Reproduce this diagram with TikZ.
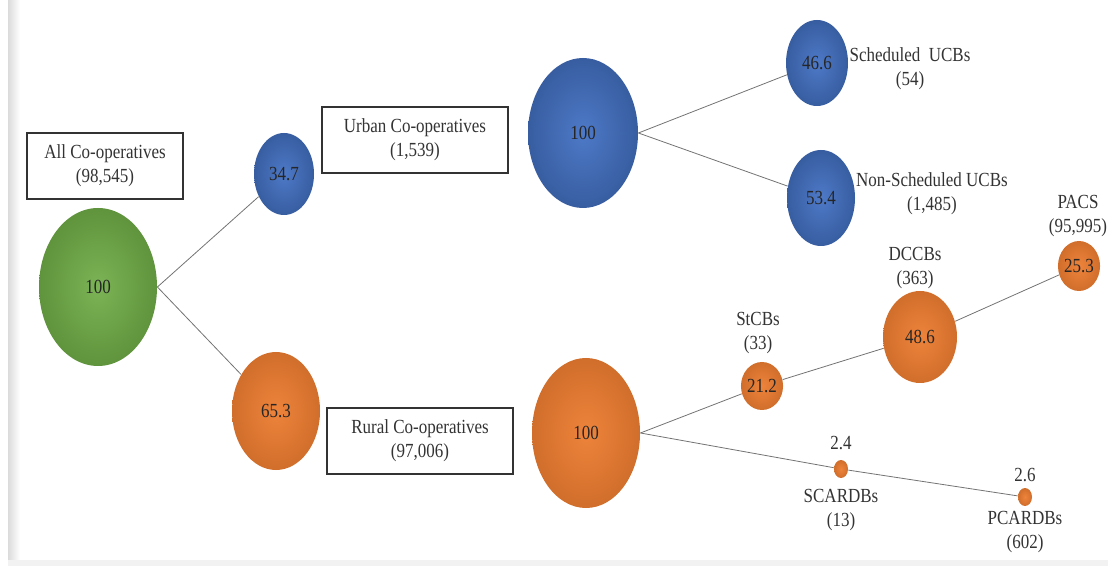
\documentclass[tikz,border=0pt]{standalone}
\usepackage{fontspec}
\setmainfont{Liberation Serif}[FakeStretch=0.85]
\usetikzlibrary{shapes.geometric, shadings}
\definecolor{verde}{HTML}{70AD47}
\definecolor{azul}{HTML}{4472C4}
\definecolor{naranja}{HTML}{ED7D31}

\begin{document}
\begin{tikzpicture}[x=.5pt, y=-.5pt, font=\fontsize{10}{12}\selectfont,
		burbuja/.style 2 args={ellipse, shade, inner sep=0pt, text=black!85, minimum width=#1, minimum height=#2},
		bverde/.style={inner color=verde!92!white, outer color=verde!85!black},
		bazul/.style={inner color=azul!95!white, outer color=azul!82!black},
		bnaranja/.style={inner color=naranja!95!white, outer color=naranja!88!black},
		caja/.style={draw=black!80, thick, align=center, text=black!80, minimum width=#1, minimum height=33pt},
		etiqueta/.style={align=center, text=black!80, inner sep=0pt},
		linea/.style={draw=black!55, thin}]
		\useasboundingbox (0, 0) rectangle (1108, 566);
		\shade[left color=black!14, right color=white] (8, 0) rectangle (20, 560);
		\fill[black!5] (8, 560) rectangle (1108, 566);
		
		% Circulos
		\node[burbuja={59pt}{79pt}, bverde] (todos) at (98, 287) {100};
		\node[burbuja={30pt}{41pt}, bazul] (urb) at (284, 174) {34.7};
		\node[burbuja={44pt}{59pt}, bnaranja] (rur) at (276, 411) {65.3};
		\node[burbuja={55pt}{75pt}, bazul] (urbcien) at (583, 133) {100};
		\node[burbuja={31pt}{43pt}, bazul] (sched) at (817, 63) {46.6};
		\node[burbuja={34pt}{48pt}, bazul] (nosched) at (821, 198) {53.4};
		\node[burbuja={54pt}{75pt}, bnaranja] (rurcien) at (586, 433) {100};
		\node[burbuja={15pt}{24pt}, bnaranja] (stcb) at (762, 386) {21.2};
		\node[burbuja={37pt}{46pt}, bnaranja] (dccb) at (920, 337) {48.6};
		\node[burbuja={18pt}{25pt}, bnaranja] (pacs) at (1079, 266) {25.3};
		\node[burbuja={7pt}{9pt}, bnaranja] (scardb) at (841, 469) {};
		\node[burbuja={7pt}{9pt}, bnaranja] (pcardb) at (1025, 497) {};
		
		% Lineas
		\draw[linea] (todos.east) -- (urb);
		\draw[linea] (todos.east) -- (rur);
		\draw[linea] (urbcien.east) -- (sched);
		\draw[linea] (urbcien.east) -- (nosched);
		\draw[linea] (rurcien.east) -- (stcb);
		\draw[linea] (stcb) -- (dccb);
		\draw[linea] (dccb) -- (pacs);
		\draw[linea] (rurcien.east) -- (scardb);
		\draw[linea] (scardb) -- (pcardb);
		
		% Cajas
		\node[caja=78pt] (cajatodos) at (105, 166) {All Co-operatives\\(98,545)};
		\node[caja=93pt] (cajaurb) at (415, 140) {Urban Co-operatives\\(1,539)};
		\node[caja=93pt] (cajarur) at (420, 441) {Rural Co-operatives\\(97,006)};
		
		% Etiquetas
		\node[etiqueta] (tsched) at (910, 69) {Scheduled~ UCBs\\(54)};
		\node[etiqueta] (tnosched) at (932, 194) {Non-Scheduled UCBs\\(1,485)};
		\node[etiqueta] (tpacs) at (1078, 216) {PACS\\(95,995)};
		\node[etiqueta] (tdccb) at (915, 268) {DCCBs\\(363)};
		\node[etiqueta] (tstcb) at (758, 333) {StCBs\\(33)};
		\node[etiqueta] (vscardb) at (841, 443) {2.4};
		\node[etiqueta] (tscardb) at (841, 510) {SCARDBs\\(13)};
		\node[etiqueta] (vpcardb) at (1025, 475) {2.6};
		\node[etiqueta] (tpcardb) at (1025, 532) {PCARDBs\\(602)};
	\end{tikzpicture}
\end{document}
